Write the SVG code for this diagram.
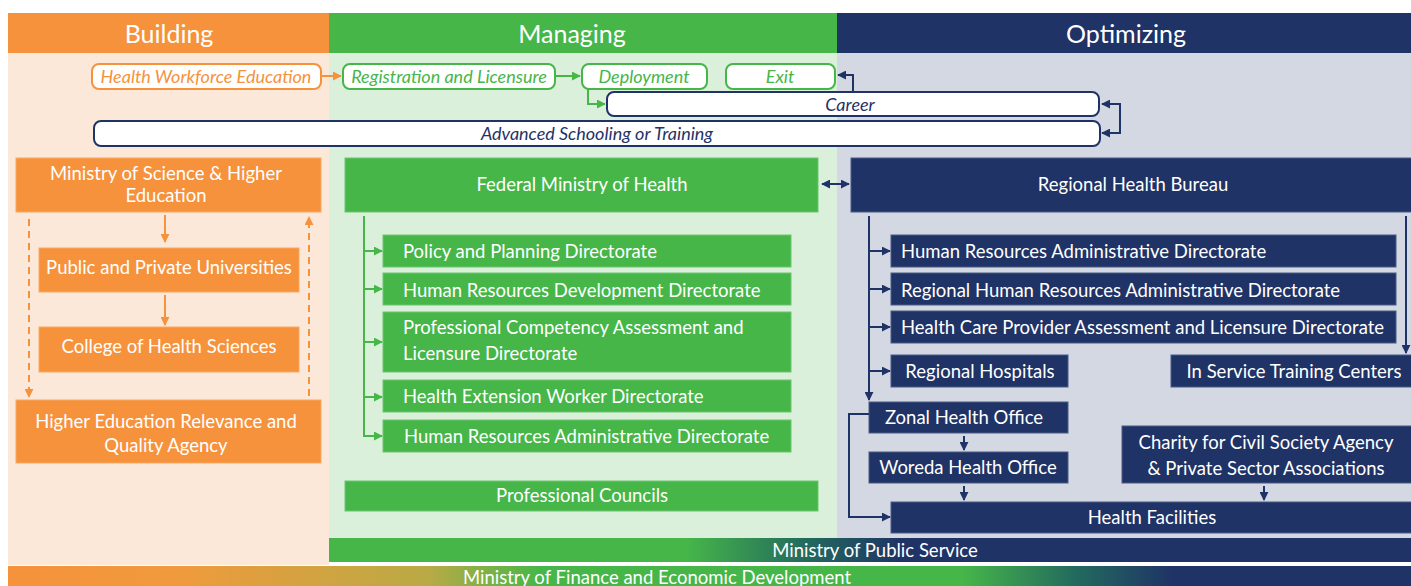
<svg xmlns="http://www.w3.org/2000/svg" width="1411" height="586" viewBox="0 0 1411 586">
  <defs>
    <style>
      .t { font-family: Lato, "Open Sans", "DejaVu Sans", sans-serif; font-size: 18.5px; fill: #ffffff; }
      .c { text-anchor: middle; }
      .hd { font-family: Lato, "Open Sans", sans-serif; font-size: 25px; fill: #ffffff; text-anchor: middle; }
      .pill { fill: #ffffff; stroke-width: 2; }
      .it { font-family: Lato, "Open Sans", sans-serif; font-size: 18px; font-style: italic; text-anchor: middle; }
      .or { fill: #F6923C; }
      .gr { fill: #46B649; }
      .nv { fill: #1F3366; }
      .bx-or { fill: #F6923C; stroke: #F9A960; stroke-width: 1; }
      .bx-gr { fill: #46B649; stroke: #6CC56E; stroke-width: 1; }
      .bx-nv { fill: #1F3366; stroke: #4A5B86; stroke-width: 1; }
      .ln-or { stroke: #F6923C; stroke-width: 2; fill: none; }
      .ln-gr { stroke: #46B649; stroke-width: 2; fill: none; }
      .ln-nv { stroke: #1F3366; stroke-width: 2; fill: none; }
      .dash { stroke-dasharray: 7 5; }
    </style>
    <marker id="ah-or" viewBox="0 0 10 10" refX="9" refY="5" markerWidth="9" markerHeight="9" markerUnits="userSpaceOnUse" orient="auto-start-reverse">
      <path d="M0,0 L10,5 L0,10 z" fill="#F6923C"/>
    </marker>
    <marker id="ah-gr" viewBox="0 0 10 10" refX="9" refY="5" markerWidth="9" markerHeight="9" markerUnits="userSpaceOnUse" orient="auto-start-reverse">
      <path d="M0,0 L10,5 L0,10 z" fill="#46B649"/>
    </marker>
    <marker id="ah-nv" viewBox="0 0 10 10" refX="9" refY="5" markerWidth="9" markerHeight="9" markerUnits="userSpaceOnUse" orient="auto-start-reverse">
      <path d="M0,0 L10,5 L0,10 z" fill="#1F3366"/>
    </marker>
    <linearGradient id="g-public" x1="329" y1="0" x2="1411" y2="0" gradientUnits="userSpaceOnUse">
      <stop offset="0" stop-color="#46B649"/>
      <stop offset="0.33" stop-color="#46B649"/>
      <stop offset="0.44" stop-color="#236B5E"/>
      <stop offset="0.53" stop-color="#1F3366"/>
      <stop offset="1" stop-color="#1F3366"/>
    </linearGradient>
    <linearGradient id="g-finance" x1="8" y1="0" x2="1411" y2="0" gradientUnits="userSpaceOnUse">
      <stop offset="0" stop-color="#F6923C"/>
      <stop offset="0.12" stop-color="#F09A3C"/>
      <stop offset="0.3" stop-color="#B9AA45"/>
      <stop offset="0.38" stop-color="#46B649"/>
      <stop offset="0.68" stop-color="#46B649"/>
      <stop offset="0.76" stop-color="#236B5E"/>
      <stop offset="0.83" stop-color="#1F3366"/>
      <stop offset="1" stop-color="#1F3366"/>
    </linearGradient>
  </defs>

  <rect width="1411" height="586" fill="#ffffff"/>

  <!-- column backgrounds -->
  <g id="columns">
    <rect x="8" y="53" width="321" height="512" fill="#FCE8D8"/>
    <rect x="329" y="53" width="508" height="485" fill="#DAF0DB"/>
    <rect x="837" y="53" width="574" height="485" fill="#D3D8E3"/>
  </g>

  <!-- column headers -->
  <g id="headers">
    <rect x="8" y="13" width="321" height="40" fill="#F6923C"/>
    <rect x="329" y="13" width="508" height="40" fill="#46B649"/>
    <rect x="837" y="13" width="574" height="40" fill="#1F3366"/>
    <text class="hd" x="169" y="43">Building</text>
    <text class="hd" x="572" y="43">Managing</text>
    <text class="hd" x="1126" y="43">Optimizing</text>
  </g>

  <!-- career pathway -->
  <g id="hwe">
    <rect class="pill" x="92" y="64" width="229" height="25" rx="7" stroke="#F6923C"/>
    <text class="it or" x="206" y="83">Health Workforce Education</text>
  </g>
  <g id="registration">
    <rect class="pill" x="343" y="64" width="212" height="25" rx="7" stroke="#46B649"/>
    <text class="it gr" x="449" y="83">Registration and Licensure</text>
  </g>
  <g id="deployment">
    <rect class="pill" x="582" y="64" width="125" height="25" rx="7" stroke="#46B649"/>
    <text class="it gr" x="644" y="83">Deployment</text>
  </g>
  <g id="exit">
    <rect class="pill" x="726" y="64" width="109" height="25" rx="7" stroke="#46B649"/>
    <text class="it gr" x="780" y="83">Exit</text>
  </g>
  <g id="career">
    <rect class="pill" x="607" y="92" width="492" height="24" rx="7" stroke="#1F3366"/>
    <text class="it nv" x="850" y="110.5">Career</text>
  </g>
  <g id="advanced">
    <rect class="pill" x="94" y="121" width="1006" height="25" rx="7" stroke="#1F3366"/>
    <text class="it nv" x="597" y="139.5">Advanced Schooling or Training</text>
  </g>

  <!-- Building -->
  <g id="mosthe">
    <rect class="bx-or" x="16" y="158" width="305" height="54"/>
    <text class="t c" x="166" y="180">Ministry of Science &amp; Higher</text>
    <text class="t c" x="166" y="202">Education</text>
  </g>
  <g id="universities">
    <rect class="bx-or" x="39" y="248" width="260" height="44"/>
    <text class="t c" x="169" y="274">Public and Private Universities</text>
  </g>
  <g id="college">
    <rect class="bx-or" x="39" y="327" width="260" height="45"/>
    <text class="t c" x="169" y="353">College of Health Sciences</text>
  </g>
  <g id="herqa">
    <rect class="bx-or" x="16" y="400" width="305" height="63"/>
    <text class="t c" x="166" y="428">Higher Education Relevance and</text>
    <text class="t c" x="166" y="452">Quality Agency</text>
  </g>

  <!-- Managing -->
  <g id="fmoh">
    <rect class="bx-gr" x="345" y="158" width="473" height="54"/>
    <text class="t c" x="582" y="191">Federal Ministry of Health</text>
  </g>
  <g id="fm-policy">
    <rect class="bx-gr" x="383" y="235" width="408" height="32"/>
    <text class="t" x="403" y="258">Policy and Planning Directorate</text>
  </g>
  <g id="fm-hrd">
    <rect class="bx-gr" x="383" y="273" width="408" height="32"/>
    <text class="t" x="403" y="297">Human Resources Development Directorate</text>
  </g>
  <g id="fm-pcal">
    <rect class="bx-gr" x="383" y="312" width="408" height="60"/>
    <text class="t" x="403" y="334">Professional Competency Assessment and</text>
    <text class="t" x="403" y="360">Licensure Directorate</text>
  </g>
  <g id="fm-hew">
    <rect class="bx-gr" x="383" y="380" width="408" height="32"/>
    <text class="t" x="403" y="403">Health Extension Worker Directorate</text>
  </g>
  <g id="fm-hra">
    <rect class="bx-gr" x="383" y="420" width="408" height="32"/>
    <text class="t" x="404" y="443">Human Resources Administrative Directorate</text>
  </g>
  <g id="councils">
    <rect class="bx-gr" x="345" y="481" width="473" height="30"/>
    <text class="t c" x="582" y="502">Professional Councils</text>
  </g>

  <!-- Optimizing -->
  <g id="rhb">
    <rect class="bx-nv" x="851" y="158" width="562" height="54"/>
    <text class="t c" x="1133" y="191">Regional Health Bureau</text>
  </g>
  <g id="rh-hra">
    <rect class="bx-nv" x="891" y="235" width="505" height="32"/>
    <text class="t" x="901" y="258">Human Resources Administrative Directorate</text>
  </g>
  <g id="rh-rhra">
    <rect class="bx-nv" x="891" y="273" width="505" height="32"/>
    <text class="t" x="901" y="297">Regional Human Resources Administrative Directorate</text>
  </g>
  <g id="rh-hcpa">
    <rect class="bx-nv" x="891" y="311" width="505" height="32"/>
    <text class="t" x="901" y="334">Health Care Provider Assessment and Licensure Directorate</text>
  </g>
  <g id="hospitals">
    <rect class="bx-nv" x="891" y="355" width="177" height="32"/>
    <text class="t c" x="980" y="378">Regional Hospitals</text>
  </g>
  <g id="istc">
    <rect class="bx-nv" x="1171" y="355" width="242" height="32"/>
    <text class="t c" x="1294" y="378">In Service Training Centers</text>
  </g>
  <g id="zonal">
    <rect class="bx-nv" x="869" y="402" width="199" height="31"/>
    <text class="t c" x="964" y="424">Zonal Health Office</text>
  </g>
  <g id="woreda">
    <rect class="bx-nv" x="869" y="452" width="199" height="31"/>
    <text class="t c" x="968" y="474">Woreda Health Office</text>
  </g>
  <g id="charity">
    <rect class="bx-nv" x="1122" y="426" width="291" height="57"/>
    <text class="t c" x="1266" y="449">Charity for Civil Society Agency</text>
    <text class="t c" x="1266" y="475">&amp; Private Sector Associations</text>
  </g>
  <g id="facilities">
    <rect class="bx-nv" x="891" y="502" width="522" height="31"/>
    <text class="t c" x="1152" y="524">Health Facilities</text>
  </g>

  <!-- cross-cutting ministries -->
  <g id="public-service">
    <rect x="329" y="538" width="1082" height="24" fill="url(#g-public)"/>
    <text class="t c" x="875" y="557">Ministry of Public Service</text>
  </g>
  <g id="finance">
    <rect x="8" y="566" width="1403" height="20" fill="url(#g-finance)"/>
    <text class="t c" x="657" y="584">Ministry of Finance and Economic Development</text>
  </g>

  <!-- connectors -->
  <g id="connectors">
    <!-- pathway -->
    <path class="ln-or" d="M322,76 H341" marker-end="url(#ah-or)"/>
    <path class="ln-gr" d="M556,76 H580" marker-end="url(#ah-gr)"/>
    <path class="ln-gr" d="M588,89 V104 H605" marker-end="url(#ah-gr)"/>
    <path class="ln-nv" d="M853,92 V75 H838" marker-end="url(#ah-nv)"/>
    <path class="ln-nv" d="M1102,104 H1120 V133 H1102" marker-start="url(#ah-nv)" marker-end="url(#ah-nv)"/>

    <!-- Building -->
    <path class="ln-or" d="M165,215 V242" marker-end="url(#ah-or)"/>
    <path class="ln-or" d="M165,295 V325" marker-end="url(#ah-or)"/>
    <path class="ln-or dash" d="M29,219 V397" marker-end="url(#ah-or)"/>
    <path class="ln-or dash" d="M309,396 V217" marker-end="url(#ah-or)"/>

    <!-- Managing -->
    <path class="ln-gr" d="M364,216 V436 H382" marker-end="url(#ah-gr)"/>
    <path class="ln-gr" d="M364,251 H382" marker-end="url(#ah-gr)"/>
    <path class="ln-gr" d="M364,289 H382" marker-end="url(#ah-gr)"/>
    <path class="ln-gr" d="M364,342 H382" marker-end="url(#ah-gr)"/>
    <path class="ln-gr" d="M364,397 H382" marker-end="url(#ah-gr)"/>
    <path class="ln-nv" d="M822,184 H849" marker-start="url(#ah-nv)" marker-end="url(#ah-nv)"/>

    <!-- Optimizing -->
    <path class="ln-nv" d="M869,216 V400" marker-end="url(#ah-nv)"/>
    <path class="ln-nv" d="M869,251 H890" marker-end="url(#ah-nv)"/>
    <path class="ln-nv" d="M869,289 H890" marker-end="url(#ah-nv)"/>
    <path class="ln-nv" d="M869,327 H890" marker-end="url(#ah-nv)"/>
    <path class="ln-nv" d="M869,371 H890" marker-end="url(#ah-nv)"/>
    <path class="ln-nv" d="M1406,216 V353" marker-end="url(#ah-nv)"/>
    <path class="ln-nv" d="M964,436 V450" marker-end="url(#ah-nv)"/>
    <path class="ln-nv" d="M964,486 V500" marker-end="url(#ah-nv)"/>
    <path class="ln-nv" d="M1264,486 V500" marker-end="url(#ah-nv)"/>
    <path class="ln-nv" d="M869,414 H849 V517 H890" marker-end="url(#ah-nv)"/>
  </g>
</svg>
